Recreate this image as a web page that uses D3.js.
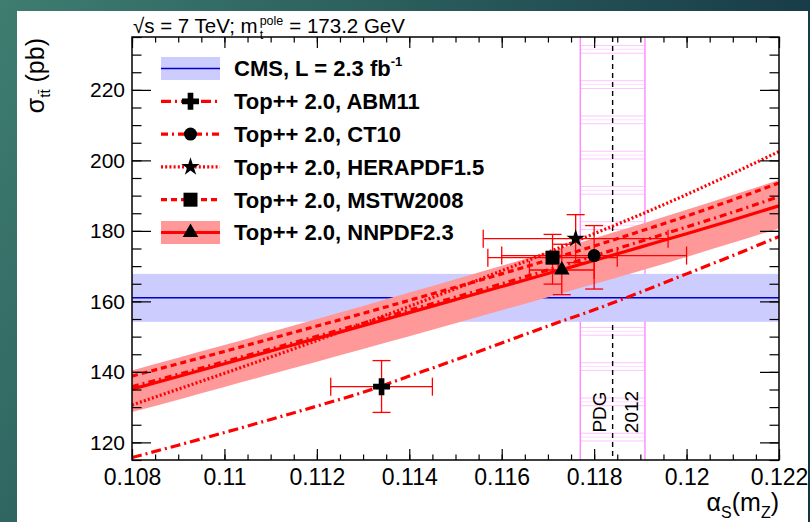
<!DOCTYPE html>
<html>
<head>
<meta charset="utf-8">
<script src="https://cdn.jsdelivr.net/npm/d3@7"></script>
<style>
  body { margin: 0; }
  svg { display: block; font-family: "Liberation Sans", Arial, Helvetica, sans-serif; }
</style>
</head>
<body>
<div id="chart"></div>
<script>
// Page and frame size
const width = 810;
const height = 522;
const frame = { left: 132, right: 779, top: 37, bottom: 460 };

// alpha_s grid where the theory curves were read
const alphaGrid = [0.108, 0.109, 0.110, 0.111, 0.112, 0.113, 0.114, 0.115,
  0.116, 0.117, 0.118, 0.119, 0.120, 0.121, 0.122];

// Top++ 2.0 predictions (pb) on alphaGrid
const sigmaABM11 = [115.7, 119.2, 122.8, 126.5, 130.3, 134.2, 138.8, 143.4,
  148.2, 153.0, 157.6, 162.6, 167.8, 173.0, 178.4];
const sigmaCT10 = [135.8, 139.3, 142.9, 146.5, 150.1, 153.8, 157.5, 161.2,
  165.0, 168.9, 172.9, 177.0, 181.1, 185.3, 189.7];
const sigmaHERAPDF = [130.6, 135.1, 139.6, 144.2, 148.9, 153.7, 158.6, 163.6,
  168.7, 173.9, 179.2, 184.6, 190.3, 196.3, 202.5];
const sigmaMSTW = [138.8, 142.3, 145.8, 149.4, 153.0, 156.6, 160.3, 164.0,
  167.8, 171.7, 175.7, 179.9, 184.2, 188.8, 193.6];
const sigmaNNPDF = [135.1, 138.7, 142.3, 145.9, 149.5, 153.1, 156.8, 160.5,
  164.2, 167.9, 171.6, 175.4, 179.2, 183.1, 187.1];
const sigmaNNPDFLow = [128.6, 132.1, 135.7, 139.3, 142.9, 146.5, 150.1, 153.8,
  157.5, 161.2, 164.9, 168.7, 172.6, 176.6, 180.7];
const sigmaNNPDFHigh = [140.4, 144.0, 147.6, 151.3, 155.0, 158.7, 162.5, 166.3,
  170.1, 174.0, 177.9, 181.9, 186.0, 190.2, 194.4];

// nominal alpha_s of each PDF with its prediction
const pdfNames = ["ABM11", "CT10", "HERAPDF1.5", "MSTW2008", "NNPDF2.3"];
const pointAlpha = [0.1134, 0.1180, 0.1176, 0.1171, 0.1173];
const pointAlphaErr = [0.0011, 0.0020, 0.0020, 0.0014, 0.0007];
const pointSigma = [135.8, 173.0, 177.8, 172.4, 168.9];
const pointSigmaUp = [7.4, 8.5, 6.8, 6.6, 7.3];
const pointSigmaDown = [7.3, 9.5, 6.8, 7.5, 7.0];

// CMS measurement and PDG world average
const cmsSigma = 161.0;
const cmsSigmaErr = 6.8;
const pdgAlpha = 0.1184;
const pdgAlphaErr = 0.0007;

// Axis ticks
const xMajorTicks = [0.108, 0.110, 0.112, 0.114, 0.116, 0.118, 0.120, 0.122];
const xTickLabels = ["0.108", "0.11", "0.112", "0.114", "0.116", "0.118", "0.12", "0.122"];
const yMajorTicks = [120, 140, 160, 180, 200, 220];
const yTickLabels = ["120", "140", "160", "180", "200", "220"];

const svg = d3.select("#chart")
  .append("svg")
  .attr("width", width)
  .attr("height", height);

const defs = svg.append("defs");

// slide background behind the plot
const grad = defs.append("linearGradient")
  .attr("id", "slide")
  .attr("x1", "0%").attr("y1", "0%")
  .attr("x2", "100%").attr("y2", "35%");
grad.append("stop").attr("offset", "0%").attr("stop-color", "#3e7d70");
grad.append("stop").attr("offset", "100%").attr("stop-color", "#133544");

svg.append("rect").attr("width", width).attr("height", height).attr("fill", "url(#slide)");
svg.append("rect").attr("x", 17).attr("y", 11).attr("width", 791).attr("height", 511).attr("fill", "#fff");

defs.append("clipPath").attr("id", "frameClip")
  .append("rect")
  .attr("x", frame.left).attr("y", frame.top)
  .attr("width", frame.right - frame.left)
  .attr("height", frame.bottom - frame.top);

// Scales
const x = d3.scaleLinear().domain([0.108, 0.122]).range([frame.left, frame.right]);
const y = d3.scaleLinear().domain([115, 235]).range([frame.bottom, frame.top]);

const plot = svg.append("g").attr("clip-path", "url(#frameClip)");

/* PDG band (hatched) */
const pdgX0 = x(pdgAlpha - pdgAlphaErr);
const pdgX1 = x(pdgAlpha + pdgAlphaErr);
const hatchCenters = d3.range(231.5, 115, -10);
const hatchOffsets = [-1.1, 0, 1.1];
const hatchColors = ["#ffc4ff", "#ffdcff", "#ffc4ff"];
hatchCenters.forEach(c => {
  hatchOffsets.forEach((o, i) => {
    plot.append("line")
      .attr("x1", pdgX0).attr("x2", pdgX1)
      .attr("y1", y(c + o)).attr("y2", y(c + o))
      .attr("stroke", hatchColors[i]).attr("stroke-width", 1);
  });
});
[pdgX0, pdgX1].forEach(px => {
  plot.append("line")
    .attr("x1", px).attr("x2", px)
    .attr("y1", frame.top).attr("y2", frame.bottom)
    .attr("stroke", "#ff80ff").attr("stroke-width", 1.3);
});
plot.append("line")
  .attr("x1", x(pdgAlpha)).attr("x2", x(pdgAlpha))
  .attr("y1", frame.top).attr("y2", frame.bottom)
  .attr("stroke", "#000").attr("stroke-width", 1.4)
  .attr("stroke-dasharray", "5,4");

// PDG label
[["PDG", 606], ["2012", 638]].forEach(([t, px]) => {
  svg.append("text")
    .attr("transform", `translate(${px},412) rotate(-90)`)
    .attr("text-anchor", "middle")
    .attr("font-size", 19)
    .text(t);
});

/* CMS band */
plot.append("rect")
  .attr("x", frame.left).attr("width", frame.right - frame.left)
  .attr("y", y(cmsSigma + cmsSigmaErr))
  .attr("height", y(cmsSigma - cmsSigmaErr) - y(cmsSigma + cmsSigmaErr))
  .attr("fill", "#ccccff");
plot.append("line")
  .attr("x1", frame.left).attr("x2", frame.right)
  .attr("y1", y(cmsSigma)).attr("y2", y(cmsSigma))
  .attr("stroke", "#0000cc").attr("stroke-width", 1.5);

/* NNPDF uncertainty band */
const area = d3.area()
  .x((d, i) => x(alphaGrid[i]))
  .y0((d, i) => y(sigmaNNPDFLow[i]))
  .y1((d, i) => y(sigmaNNPDFHigh[i]))
  .curve(d3.curveMonotoneX);
plot.append("path").datum(alphaGrid).attr("d", area).attr("fill", "#ff9999");

/* Theory curves */
const curves = [
  { values: sigmaABM11, dash: "10,4,2,4" },
  { values: sigmaHERAPDF, dash: "2,2.2" },
  { values: sigmaMSTW, dash: "6,4" },
  { values: sigmaCT10, dash: "7,4,2,4" },
  { values: sigmaNNPDF, dash: null }
];
const line = d3.line()
  .x(d => x(d[0]))
  .y(d => y(d[1]))
  .curve(d3.curveMonotoneX);
curves.forEach(c => {
  plot.append("path")
    .datum(d3.zip(alphaGrid, c.values))
    .attr("d", line)
    .attr("fill", "none")
    .attr("stroke", "#ff0000")
    .attr("stroke-width", 3.2)
    .attr("stroke-dasharray", c.dash);
});

/* Points with error bars */
const markerTypes = [d3.symbolCross, d3.symbolCircle, d3.symbolStar, d3.symbolSquare, d3.symbolTriangle];
const markerSizes = [160, 133, 105, 196, 105];
const cap = 9;
const errG = svg.append("g").attr("stroke", "#ff0000").attr("stroke-width", 1.3);
pdfNames.forEach((name, i) => {
  const cx = x(pointAlpha[i]);
  const cy = y(pointSigma[i]);
  const xl = x(pointAlpha[i] - pointAlphaErr[i]);
  const xr = x(pointAlpha[i] + pointAlphaErr[i]);
  const yt = y(pointSigma[i] + pointSigmaUp[i]);
  const yb = y(pointSigma[i] - pointSigmaDown[i]);
  errG.append("line").attr("x1", xl).attr("x2", xr).attr("y1", cy).attr("y2", cy);
  errG.append("line").attr("x1", cx).attr("x2", cx).attr("y1", yt).attr("y2", yb);
  [xl, xr].forEach(px => errG.append("line").attr("x1", px).attr("x2", px).attr("y1", cy - cap).attr("y2", cy + cap));
  [yt, yb].forEach(py => errG.append("line").attr("x1", cx - cap).attr("x2", cx + cap).attr("y1", py).attr("y2", py));
});
pdfNames.forEach((name, i) => {
  svg.append("path")
    .attr("d", d3.symbol().type(markerTypes[i]).size(markerSizes[i])())
    .attr("transform", `translate(${x(pointAlpha[i])},${y(pointSigma[i])})`)
    .attr("fill", "#000");
});

/* Axes */
function styleAxis(g, fontSize) {
  g.select(".domain").remove();
  g.attr("font-family", null).attr("font-size", fontSize);
  g.selectAll(".tick line").attr("stroke", "#000").attr("stroke-width", 1.2);
  g.selectAll(".tick text").attr("fill", "#000");
}
const xMinorTicks = d3.range(0.108, 0.12201, 0.0005);
const yMinorTicks = d3.range(115, 236, 5);

svg.append("g").attr("transform", `translate(0,${frame.bottom})`)
  .call(d3.axisBottom(x).tickValues(xMinorTicks).tickFormat("").tickSize(-5.5))
  .call(g => styleAxis(g, 23));
svg.append("g").attr("transform", `translate(0,${frame.bottom})`)
  .call(d3.axisBottom(x).tickValues(xMajorTicks).tickFormat((d, i) => xTickLabels[i])
    .tickSizeInner(-11).tickSizeOuter(0).tickPadding(9))
  .call(g => styleAxis(g, 23));
svg.append("g").attr("transform", `translate(0,${frame.top})`)
  .call(d3.axisTop(x).tickValues(xMinorTicks).tickFormat("").tickSize(-5.5))
  .call(g => styleAxis(g, 23));
svg.append("g").attr("transform", `translate(0,${frame.top})`)
  .call(d3.axisTop(x).tickValues(xMajorTicks).tickFormat("").tickSize(-11))
  .call(g => styleAxis(g, 23));

svg.append("g").attr("transform", `translate(${frame.left},0)`)
  .call(d3.axisLeft(y).tickValues(yMinorTicks).tickFormat("").tickSize(-9.5))
  .call(g => styleAxis(g, 21));
svg.append("g").attr("transform", `translate(${frame.left},0)`)
  .call(d3.axisLeft(y).tickValues(yMajorTicks).tickFormat((d, i) => yTickLabels[i])
    .tickSizeInner(-19).tickSizeOuter(0).tickPadding(7))
  .call(g => styleAxis(g, 21));
svg.append("g").attr("transform", `translate(${frame.right},0)`)
  .call(d3.axisRight(y).tickValues(yMinorTicks).tickFormat("").tickSize(-9.5))
  .call(g => styleAxis(g, 21));
svg.append("g").attr("transform", `translate(${frame.right},0)`)
  .call(d3.axisRight(y).tickValues(yMajorTicks).tickFormat("").tickSize(-19))
  .call(g => styleAxis(g, 21));

svg.append("rect")
  .attr("x", frame.left).attr("y", frame.top)
  .attr("width", frame.right - frame.left).attr("height", frame.bottom - frame.top)
  .attr("fill", "none").attr("stroke", "#000").attr("stroke-width", 1.5);

/* Axis titles */
const xt = svg.append("text")
  .attr("x", frame.right).attr("y", 511)
  .attr("text-anchor", "end").attr("font-size", 25);
xt.append("tspan").text("α");
xt.append("tspan").attr("font-size", 16).attr("dy", 7).text("S");
xt.append("tspan").attr("dy", -7).text("(m");
xt.append("tspan").attr("font-size", 16).attr("dy", 7).text("Z");
xt.append("tspan").attr("dy", -7).text(")");

const yt = svg.append("text")
  .attr("transform", "translate(44,38) rotate(-90)")
  .attr("text-anchor", "end").attr("font-size", 25);
yt.append("tspan").text("σ");
yt.append("tspan").attr("font-size", 15).attr("dy", 6).text("tt\u0304");
yt.append("tspan").attr("dy", -6).text(" (pb)");

/* Top label */
const tx = 133, ty = 33;
const t1 = svg.append("text").attr("x", tx).attr("y", ty).attr("font-size", 20.5).text("√s = 7 TeV; m");
const w1 = t1.node().getComputedTextLength();
const tSup = svg.append("text").attr("x", tx + w1 + 2).attr("y", 25).attr("font-size", 12.5).text("pole");
svg.append("text").attr("x", tx + w1 + 2).attr("y", 39).attr("font-size", 12.5).text("t");
const wSup = tSup.node().getComputedTextLength();
svg.append("text").attr("x", tx + w1 + wSup + 8).attr("y", ty).attr("font-size", 20.5).text("= 173.2 GeV");

/* Legend */
const legendRows = ["CMS, L = 2.3 fb"].concat(pdfNames.map(n => "Top++ 2.0, " + n));
const rowY = i => 68.5 + i * 32.8;
const lgX0 = 161, lgX1 = 220, lgXm = 190.5;
const legend = svg.append("g");

// CMS entry
legend.append("rect").attr("x", lgX0).attr("y", rowY(0) - 11.5).attr("width", lgX1 - lgX0).attr("height", 23).attr("fill", "#ccccff");
legend.append("line").attr("x1", lgX0).attr("x2", lgX1).attr("y1", rowY(0)).attr("y2", rowY(0))
  .attr("stroke", "#0000cc").attr("stroke-width", 1.5);

// NNPDF box
legend.append("rect").attr("x", lgX0).attr("y", rowY(5) - 11.5).attr("width", lgX1 - lgX0).attr("height", 23).attr("fill", "#ff9999");

const legendDash = ["10,4,2,4", "7,4,2,4", "2,2.2", "6,4", null];
pdfNames.forEach((name, i) => {
  const ry = rowY(i + 1);
  legend.append("line").attr("x1", lgX0).attr("x2", lgX1).attr("y1", ry).attr("y2", ry)
    .attr("stroke", "#ff0000").attr("stroke-width", 3.2).attr("stroke-dasharray", legendDash[i]);
  legend.append("path")
    .attr("d", d3.symbol().type(markerTypes[i]).size(markerSizes[i])())
    .attr("transform", `translate(${lgXm},${ry})`)
    .attr("fill", "#000");
});

legendRows.forEach((label, i) => {
  const t = legend.append("text")
    .attr("x", 234).attr("y", rowY(i)).attr("dy", "0.36em")
    .attr("font-size", 22).attr("font-weight", "bold")
    .text(label);
  if (i === 0) {
    t.append("tspan").attr("font-size", 13).attr("dy", "-0.8em").text("-1");
  }
});
</script>
</body>
</html>
